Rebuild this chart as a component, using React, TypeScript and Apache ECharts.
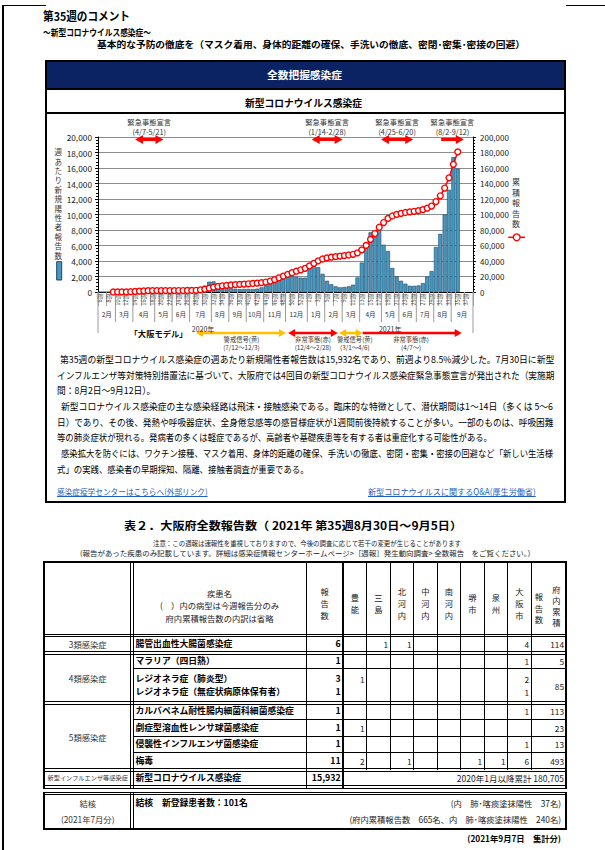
import React, { useEffect, useLayoutEffect, useRef } from 'react';
import * as echarts from 'echarts';

if (typeof document !== 'undefined') document.body.style.margin = '0';

const FONT = '"Noto Sans CJK JP", "Noto Sans", sans-serif';

// ---------------- chart data ----------------
const weeks2020 = ['6週','7週','8週','9週','10週','11週','12週','13週','14週','15週','16週','17週','18週','19週','20週','21週','22週','23週','24週','25週','26週','27週','28週','29週','30週','31週','32週','33週','34週','35週','36週','37週','38週','39週','40週','41週','42週','43週','44週','45週','46週','47週','48週','49週','50週','51週','52週','53週'];
const weeks2021 = ['1週','2週','3週','4週','5週','6週','7週','8週','9週','10週','11週','12週','13週','14週','15週','16週','17週','18週','19週','20週','21週','22週','23週','24週','25週','26週','27週','28週','29週','30週','31週','32週','33週','34週','35週','36週','37週','38週'];

const newCases2020 = [0,1,1,15,30,40,70,170,380,470, 370,190,80,30,10,5,5,10,20,20, 30,70,220,560,810,1330,1370,940,730,600, 480,400,360,400,400,380,430,600,850,1300, 1900,2200,2300,2200,2100,1950,1850,1850];
const newCases2021 = [3100,3400,3200,2350,1450, 1000,730,600,650,730, 940,1880,3800,5800,7700, 7600,8100,6100,5300,3100, 2000,1450,1070,800,800, 850,1150,2000,2700,5800, 7500,10000,13184,17412,15932, null,null,null];

const cumulative2020 = [null,null,null,17,47,87,157,327,707,1177, 1547,1737,1817,1847,1857,1862,1867,1877,1897,1917, 1947,2017,2237,2797,3607,4937,6307,7247,7977,8577, 9057,9457,9817,10217,10617,10997,11427,12027,12877,14177, 16077,18277,20577,22777,24877,26827,28677,30527];
const cumulative2021 = [33627,37027,40227,42577,44027, 45027,45757,46357,47007,47737, 48677,50557,54357,60157,67857, 75457,83557,89657,94957,98057, 100057,101507,102577,103377,104177, 105027,106177,108177,110877,116677, 124177,134177,147361,164773,180705, null,null,null];

const categories = [...weeks2020, ...weeks2021];
const newCases = [...newCases2020, ...newCases2021];
const cumulative = [...cumulative2020, ...cumulative2021];

const leftTicks = { min: 0, max: 20000, interval: 2000 };
const rightTicks = { min: 0, max: 200000, interval: 20000 };

const monthLabels = ['2月','3月','4月','5月','6月','7月','8月','9月','10月','11月','12月','1月','2月','3月','4月','5月','6月','7月','8月','9月'];
const monthStartWeek = [0,4,8,13,17,21,26,30,34,38,43,48,52,56,60,65,69,73,77,81];
const monthEndWeek = [4,8,13,17,21,26,30,34,38,43,48,52,56,60,65,69,73,77,81,86];

const emergencyStart = [8.5, 49.0, 64.9, 78.7];
const emergencyEnd = [15.0, 56.1, 72.3, 83.9];
const emergencyDates = ['(4/7-5/21)', '(1/14-2/28)', '(4/25-6/20)', '(8/2-9/12)'];
const emergencyBothHeads = [true, true, true, false];

const osakaStart = [22.5, 43.6, 55.3, 60.7];
const osakaEnd = [43.1, 55.0, 60.7, 83.4];
const osakaColors = ['#FFC000', '#FF0000', '#FFC000', '#FF0000'];
const osakaBothHeads = [true, true, true, false];
const osakaLabelPos = [32.9, 49.3, 58.9, 71.8];
const osakaLabel1 = ['警戒信号(黄)', '非常事態(赤)', '警戒信号(黄)', '非常事態(赤)'];
const osakaLabel2 = ['(7/12～12/3)', '(12/4～2/28)', '(3/1～4/6)', '(4/7～)'];

const footLabels = ['「大阪モデル」', '2020年', '2021年'];
const footPos = [13.9, 24.1, 67.0];

const leftAxisName = ['週','あ','た','り','新','規','陽','性','者','報','告','数'];
const rightAxisName = ['累','積','報','告','数'];

// ---------------- table data ----------------
const regionNames = ['豊能','三島','北河内','中河内','南河内','堺市','泉州','大阪市'];
type Row = { name: string; total: string; regions: string[]; cy: number };
const tableRows: Row[] = [
  { name: '腸管出血性大腸菌感染症', total: '6', regions: ['', '1', '1', '', '', '', '', '4'], cy: 644.5 },
  { name: 'マラリア（四日熱）', total: '1', regions: ['', '', '', '', '', '', '', '1'], cy: 661 },
  { name: 'レジオネラ症（肺炎型）', total: '3', regions: ['1', '', '', '', '', '', '', '2'], cy: 679.5 },
  { name: 'レジオネラ症（無症状病原体保有者）', total: '1', regions: ['', '', '', '', '', '', '', '1'], cy: 692.5 },
  { name: 'カルバペネム耐性腸内細菌科細菌感染症', total: '1', regions: ['', '', '', '', '', '', '', '1'], cy: 711.5 },
  { name: '劇症型溶血性レンサ球菌感染症', total: '1', regions: ['1', '', '', '', '', '', '', ''], cy: 728 },
  { name: '侵襲性インフルエンザ菌感染症', total: '1', regions: ['', '', '', '', '', '', '', '1'], cy: 744 },
  { name: '梅毒', total: '11', regions: ['2', '', '1', '', '', '1', '1', '6'], cy: 761 },
];
const cumulativeCells = [
  { v: '114', cy: 644.5 }, { v: '5', cy: 661 }, { v: '85', cy: 686 }, { v: '113', cy: 711.5 },
  { v: '23', cy: 728 }, { v: '13', cy: 744 }, { v: '493', cy: 761 },
];

const commentLines = [
  '第35週の新型コロナウイルス感染症の週あたり新規陽性者報告数は15,932名であり、前週より8.5%減少した。7月30日に新型',
  'インフルエンザ等対策特別措置法に基づいて、大阪府では4回目の新型コロナウイルス感染症緊急事態宣言が発出された（実施期',
  '間：8月2日～9月12日）。',
  '新型コロナウイルス感染症の主な感染経路は飛沫・接触感染である。臨床的な特徴として、潜伏期間は1～14日（多くは 5～6',
  '日）であり、その後、発熱や呼吸器症状、全身倦怠感等の感冒様症状が1週間前後持続することが多い。一部のものは、呼吸困難',
  '等の肺炎症状が現れる。発病者の多くは軽症であるが、高齢者や基礎疾患等を有する者は重症化する可能性がある。',
  '感染拡大を防ぐには、ワクチン接種、マスク着用、身体的距離の確保、手洗いの徹底、密閉・密集・密接の回避など「新しい生活様',
  '式」の実践、感染者の早期探知、隔離、接触者調査が重要である。',
];
const commentX = [60, 56.7, 56.7, 61, 56.7, 56.7, 61, 56.7];
const commentEnd = [554.3, 554, 155, 553, 553, 491.7, 553, 308.3];
const commentY = [360, 375.6, 391.2, 406.8, 422.4, 438, 453.7, 469.4];

// ---------------- helpers ----------------
const BAR = '#4798BE';
const BAR_EDGE = '#1E4468';

function txt(text: string, x: number, y: number, size: number, extra: any = {}) {
  return {
    type: 'text', x, y, silent: true,
    style: {
      text, fill: extra.fill || '#333', fontSize: size, fontFamily: FONT,
      fontWeight: extra.bold ? 'bold' : 'normal',
      align: extra.align || 'center', textAlign: extra.align || 'center',
      verticalAlign: 'middle', textVerticalAlign: 'middle',
    },
  };
}

function arrow(x0: number, x1: number, y: number, color: string, left: boolean, right: boolean, lw: number, hl: number, hw: number) {
  const els: any[] = [];
  els.push({ type: 'line', shape: { x1: left ? x0 + hl * 0.7 : x0, y1: y, x2: right ? x1 - hl * 0.7 : x1, y2: y }, style: { stroke: color, lineWidth: lw } });
  if (left) els.push({ type: 'polygon', shape: { points: [[x0, y], [x0 + hl, y - hw], [x0 + hl, y + hw]] }, style: { fill: color } });
  if (right) els.push({ type: 'polygon', shape: { points: [[x1, y], [x1 - hl, y - hw], [x1 - hl, y + hw]] }, style: { fill: color } });
  return els;
}

function FitText({ text, x, cy, w, size, bold, color, underline }: any) {
  const ref = useRef<HTMLSpanElement>(null);
  useLayoutEffect(() => {
    const el = ref.current;
    if (!el) return;
    el.style.transform = 'none';
    const nat = el.getBoundingClientRect().width;
    if (nat > 0) el.style.transform = `scaleX(${w / nat})`;
  }, [text, w]);
  return (
    <span ref={ref} style={{
      position: 'absolute', left: x, top: cy - size / 2, whiteSpace: 'nowrap', fontSize: size,
      lineHeight: `${size}px`, transformOrigin: '0 0', fontWeight: bold ? 700 : 400,
      color: color || '#000', fontFamily: FONT, textDecoration: underline ? 'underline' : 'none',
    }}>{text}</span>
  );
}

function T({ text, x, cy, size, bold, align, color }: any) {
  const style: any = {
    position: 'absolute', top: cy - size / 2, fontSize: size, lineHeight: `${size}px`, whiteSpace: 'nowrap',
    fontWeight: bold ? 700 : 400, color: color || '#222', fontFamily: FONT,
  };
  if (align === 'right') { style.left = x - 300; style.width = 300; style.textAlign = 'right'; }
  else if (align === 'center') { style.left = x - 150; style.width = 300; style.textAlign = 'center'; }
  else { style.left = x; }
  return <div style={style}>{text}</div>;
}

const HL = ({ x1, x2, y, t = 1 }: any) => <div style={{ position: 'absolute', left: x1, top: y - t / 2, width: x2 - x1, height: t, background: '#000' }} />;
const VL = ({ x, y1, y2, t = 1 }: any) => <div style={{ position: 'absolute', left: x - t / 2, top: y1, width: t, height: y2 - y1, background: '#000' }} />;
const DHL = ({ x1, x2, y }: any) => (<><HL x1={x1} x2={x2} y={y - 1.4} /><HL x1={x1} x2={x2} y={y + 1.4} /></>);

const colX = [44, 131.5, 306.3, 343.1, 366.6, 390.1, 413.6, 437.1, 460.6, 484.1, 507.6, 531.1, 566];

function buildOption() {
  const emergencySeries = {
    type: 'custom', coordinateSystem: 'cartesian2d', xAxisIndex: 1, yAxisIndex: 0, clip: false, silent: true, z: 10,
    encode: { x: [0, 1], y: 2 },
    data: emergencyStart.map((s, i) => [s, emergencyEnd[i], 20000]),
    renderItem: (params: any, api: any) => {
      const i = params.dataIndex;
      const p0 = api.coord([api.value(0), 20000]);
      const p1 = api.coord([api.value(1), 20000]);
      const yt = p0[1];
      const cx = (p0[0] + p1[0]) / 2;
      return {
        type: 'group',
        children: [
          txt('緊急事態宣言', cx, yt - 15.5, 7.3, { fill: '#333' }),
          txt(emergencyDates[i], cx, yt - 4.8, 7.3, { fill: '#333' }),
          ...arrow(p0[0], p1[0], yt + 2.5, '#FF0000', emergencyBothHeads[i], true, 3, 8, 4.5),
        ],
      };
    },
  };

  const monthSeries = {
    type: 'custom', coordinateSystem: 'cartesian2d', xAxisIndex: 1, yAxisIndex: 0, clip: false, silent: true,
    encode: { x: [0, 1], y: 2 },
    data: monthStartWeek.map((s, i) => [s, monthEndWeek[i], 0]),
    renderItem: (params: any, api: any) => {
      const i = params.dataIndex;
      const p0 = api.coord([api.value(0), 0]);
      const p1 = api.coord([api.value(1), 0]);
      const yb = p0[1];
      const children: any[] = [
        { type: 'line', shape: { x1: p0[0], y1: yb, x2: p0[0], y2: yb + (i === 0 ? 41 : 30) }, style: { stroke: '#9a9a9a', lineWidth: 1 } },
        txt(monthLabels[i], (p0[0] + p1[0]) / 2, yb + 22, 6.5, { fill: '#333' }),
      ];
      if (i === monthStartWeek.length - 1) {
        children.push({ type: 'line', shape: { x1: p1[0], y1: yb, x2: p1[0], y2: yb + 41 }, style: { stroke: '#9a9a9a', lineWidth: 1 } });
      }
      return { type: 'group', children };
    },
  };

  const osakaSeries = {
    type: 'custom', coordinateSystem: 'cartesian2d', xAxisIndex: 1, yAxisIndex: 0, clip: false, silent: true,
    encode: { x: [0, 1, 2], y: 3 },
    data: osakaStart.map((s, i) => [s, osakaEnd[i], osakaLabelPos[i], 0]),
    renderItem: (params: any, api: any) => {
      const i = params.dataIndex;
      const p0 = api.coord([api.value(0), 0]);
      const p1 = api.coord([api.value(1), 0]);
      const pl = api.coord([api.value(2), 0]);
      const yb = p0[1];
      return {
        type: 'group',
        children: [
          ...arrow(p0[0], p1[0], yb + 41, osakaColors[i], osakaBothHeads[i], true, 2.6, 7, 4),
          txt(osakaLabel1[i], pl[0], yb + 47.3, 6.3, { fill: '#333' }),
          txt(osakaLabel2[i], pl[0], yb + 55.3, 6.3, { fill: '#333' }),
        ],
      };
    },
  };

  const footSeries = {
    type: 'custom', coordinateSystem: 'cartesian2d', xAxisIndex: 1, yAxisIndex: 0, clip: false, silent: true,
    encode: { x: 0, y: 1 },
    data: footPos.map((p) => [p, 0]),
    renderItem: (params: any, api: any) => {
      const i = params.dataIndex;
      const p = api.coord([api.value(0), 0]);
      return i === 0
        ? txt(footLabels[i], p[0], p[1] + 41, 8.3, { fill: '#111', bold: true })
        : txt(footLabels[i], p[0], p[1] + 36.5, 7, { fill: '#333' });
    },
  };

  return {
    animation: false,
    textStyle: { fontFamily: FONT },
    grid: { left: 52, top: 24, width: 375, height: 155 },
    xAxis: [
      {
        type: 'category', data: categories, boundaryGap: true,
        axisLine: { lineStyle: { color: '#000', width: 1 } },
        axisTick: { show: true, interval: 1, length: 14, lineStyle: { color: '#a8a8a8' } },
        axisLabel: { interval: 1, rotate: 90, fontSize: 5.5, color: '#444', margin: 2, fontFamily: FONT },
        splitLine: { show: false },
      },
      {
        type: 'value', min: 0, max: 86, position: 'top',
        axisLine: { show: true, lineStyle: { color: '#000', width: 1.2 } },
        axisTick: { show: false }, axisLabel: { show: false }, splitLine: { show: false },
      },
    ],
    yAxis: [
      {
        type: 'value', ...leftTicks, position: 'left',
        axisLine: { show: true, lineStyle: { color: '#000' } },
        axisTick: { show: true, length: 3, lineStyle: { color: '#000' } },
        minorTick: { show: true, splitNumber: 5, length: 2, lineStyle: { color: '#000' } },
        splitLine: { show: true, lineStyle: { color: '#8c8c8c', width: 1 } },
        axisLabel: { fontSize: 8.3, color: '#222', margin: 6, fontFamily: FONT, formatter: (v: number) => v.toLocaleString('en-US') },
      },
      {
        type: 'value', ...rightTicks, position: 'right',
        axisLine: { show: true, lineStyle: { color: '#000' } },
        axisTick: { show: true, length: 3, lineStyle: { color: '#000' } },
        minorTick: { show: true, splitNumber: 5, length: 2, lineStyle: { color: '#000' } },
        splitLine: { show: false },
        axisLabel: { fontSize: 8, color: '#222', margin: 7, fontFamily: FONT, formatter: (v: number) => v.toLocaleString('en-US') },
      },
    ],
    series: [
      {
        type: 'bar', data: newCases, xAxisIndex: 0, yAxisIndex: 0, barCategoryGap: '8%',
        itemStyle: { color: BAR, borderColor: BAR_EDGE, borderWidth: 0.6 },
      },
      {
        type: 'line', data: cumulative, xAxisIndex: 0, yAxisIndex: 1, symbol: 'circle', symbolSize: 5.8,
        showAllSymbol: true, connectNulls: false,
        lineStyle: { color: '#FF0000', width: 1.5 },
        itemStyle: { color: '#FFFFFF', borderColor: '#FF0000', borderWidth: 1.4 }, z: 5,
      },
      emergencySeries, monthSeries, osakaSeries, footSeries,
    ],
    graphic: [
      { type: 'text', left: 8.5, top: 34, silent: true, style: { text: leftAxisName.join('\n'), fontSize: 7.5, lineHeight: 9.4, fill: '#333', fontFamily: FONT, align: 'center', textAlign: 'center' } },
      { type: 'rect', shape: { x: 10.7, y: 148.7, width: 5, height: 18.3 }, style: { fill: BAR, stroke: BAR_EDGE, lineWidth: 1 }, silent: true },
      { type: 'text', left: 466, top: 63.5, silent: true, style: { text: rightAxisName.join('\n'), fontSize: 8, lineHeight: 10.5, fill: '#333', fontFamily: FONT, align: 'center', textAlign: 'center' } },
      { type: 'line', shape: { x1: 462.3, y1: 124.3, x2: 479, y2: 124.3 }, style: { stroke: '#FF0000', lineWidth: 1.5 }, silent: true },
      { type: 'circle', shape: { cx: 470.7, cy: 124.3, r: 3.4 }, style: { fill: '#fff', stroke: '#FF0000', lineWidth: 1.4 }, silent: true },
    ],
  };
}

export default function App() {
  const ref = useRef<HTMLDivElement>(null);
  useEffect(() => {
    if (!ref.current) return;
    const chart = echarts.init(ref.current, null, { renderer: 'svg' });
    chart.setOption(buildOption() as any);
    return () => chart.dispose();
  }, []);

  const regionCenters = colX.slice(3, 11).map((x, i) => (x + colX[i + 4]) / 2);

  return (
    <div style={{ position: 'relative', width: 605, height: 850, background: '#fff', overflow: 'hidden', fontFamily: FONT }}>
      {/* page frame */}
      <div style={{ position: 'absolute', left: 2, top: 5, width: 1.5, height: 845, background: '#000' }} />
      <div style={{ position: 'absolute', left: 2, top: 4.5, width: 44, height: 1.5, background: '#000' }} />
      <div style={{ position: 'absolute', left: 566, top: 4.5, width: 39, height: 1.5, background: '#000' }} />

      <FitText text="第35週のコメント" x={43} cy={16} w={87} size={12} bold />
      <FitText text="～新型コロナウイルス感染症～" x={43} cy={32} w={108} size={9} bold />
      <FitText text="基本的な予防の徹底を（マスク着用、身体的距離の確保、手洗いの徹底、密閉･密集･密接の回避）" x={97} cy={45} w={428} size={9.5} bold />

      {/* box */}
      <div style={{ position: 'absolute', left: 45, top: 60, width: 521, height: 443, border: '2px solid #000', boxSizing: 'border-box' }} />
      <div style={{ position: 'absolute', left: 47, top: 62, width: 517, height: 25.5, background: '#0B2263' }} />
      <FitText text="全数把握感染症" x={267} cy={75} w={75} size={10.5} bold color="#fff" />
      <div style={{ position: 'absolute', left: 47, top: 87.5, width: 517, height: 2, background: '#000' }} />
      <FitText text="新型コロナウイルス感染症" x={245} cy={103} w={117} size={10} bold />
      <div style={{ position: 'absolute', left: 47, top: 111.5, width: 517, height: 2, background: '#000' }} />

      <div ref={ref} style={{ position: 'absolute', left: 46, top: 113, width: 518, height: 240 }} />

      {commentLines.map((l, i) => (
        <FitText key={i} text={l} x={commentX[i]} cy={commentY[i]} w={commentEnd[i] - commentX[i]} size={9.6} />
      ))}
      <FitText text="感染症疫学センターはこちらへ(外部リンク)" x={56.7} cy={491.5} w={150.6} size={8.5} color="#1F5FBF" underline />
      <FitText text="新型コロナウイルスに関するQ&A(厚生労働省)" x={368.3} cy={491.5} w={167.7} size={8.5} color="#1F5FBF" underline />

      {/* table title */}
      <FitText text="表２．大阪府全数報告数（ 2021年 第35週8月30日～9月5日）" x={124} cy={525} w={338} size={11} bold />
      <FitText text="注意：この週報は速報性を重視しておりますので、今後の調査に応じて若干の変更が生じることがあります" x={153} cy={543.3} w={308} size={7.3} color="#222" />
      <FitText text="(報告があった疾患のみ記載しています。詳細は感染症情報センターホームページ>［週報］発生動向調査> 全数報告　をご覧ください。）" x={80} cy={553.3} w={455} size={7.3} color="#222" />

      {/* table lines */}
      <HL x1={43} x2={567} y={562} t={2} />
      <VL x={44} y1={562} y2={789} t={2} />
      <VL x={566} y1={562} y2={789} t={2} />
      <VL x={130.2} y1={562} y2={788} />
      <VL x={133.2} y1={562} y2={788} />
      <VL x={colX[2]} y1={562} y2={788} t={1.4} />
      <VL x={colX[3]} y1={562} y2={788} t={1.4} />
      {colX.slice(4, 12).map((x, i) => <VL key={i} x={x} y1={562} y2={770} />)}
      <DHL x1={44} x2={566} y={635.5} />
      <DHL x1={44} x2={566} y={653} />
      <HL x1={133} x2={566} y={668.5} />
      <DHL x1={44} x2={566} y={703} />
      <HL x1={133} x2={566} y={719.5} />
      <HL x1={133} x2={566} y={736} />
      <HL x1={133} x2={566} y={752} />
      <DHL x1={44} x2={566} y={770} />
      <DHL x1={44} x2={566} y={787} />

      {/* header */}
      <T text="疾患名" x={219.5} cy={593} size={8.3} align="center" />
      <T text="(　）内の病型は今週報告分のみ" x={219.5} cy={605.5} size={8.3} align="center" />
      <T text="府内累積報告数の内訳は省略" x={219.5} cy={618} size={8.3} align="center" />
      {['報', '告', '数'].map((c, k) => <T key={'h' + k} text={c} x={324.7} cy={591.5 + k * 11.7} size={8.3} align="center" />)}
      {regionNames.map((n, i) => {
        const chars = n.split('');
        const start = chars.length === 3 ? 591.5 : 597;
        return chars.map((c, k) => <T key={n + k} text={c} x={regionCenters[i]} cy={start + k * 11.7} size={8.3} align="center" />);
      })}
      {['報', '告', '数'].map((c, k) => <T key={'c' + k} text={c} x={539} cy={596 + k * 11.7} size={8.3} align="center" />)}
      {['府', '内', '累', '積'].map((c, k) => <T key={'d' + k} text={c} x={556.5} cy={589 + k * 11} size={8.3} align="center" />)}

      {/* category column */}
      <T text="3類感染症" x={87.7} cy={644.5} size={8.3} align="center" color="#333" />
      <T text="4類感染症" x={87.7} cy={678} size={8.3} align="center" color="#333" />
      <T text="5類感染症" x={87.7} cy={737} size={8.3} align="center" color="#333" />
      <T text="新型インフルエンザ等感染症" x={87.7} cy={778.5} size={6.2} align="center" color="#333" />

      {tableRows.map((r, i) => (
        <React.Fragment key={i}>
          <T text={r.name} x={135.5} cy={r.cy} size={8.8} bold color="#000" />
          <T text={r.total} x={colX[3] - 2.5} cy={r.cy} size={8.8} bold align="right" color="#000" />
          {r.regions.map((v, k) => v ? <T key={k} text={v} x={colX[k + 4] - 2} cy={r.cy} size={8.3} align="right" /> : null)}
        </React.Fragment>
      ))}
      {cumulativeCells.map((c, i) => <T key={'cum' + i} text={c.v} x={564} cy={c.cy} size={8.3} align="right" />)}

      <T text="新型コロナウイルス感染症" x={135.5} cy={778.5} size={8.8} bold color="#000" />
      <T text="15,932" x={colX[3] - 2.5} cy={778.5} size={8.8} bold align="right" color="#000" />
      <T text="2020年1月以降累計  180,705" x={564} cy={778.5} size={8.5} align="right" />

      {/* tuberculosis box */}
      <HL x1={44} x2={566} y={792} />
      <HL x1={44} x2={566} y={794.6} />
      <VL x={44} y1={791.5} y2={830} t={2} />
      <VL x={566} y1={791.5} y2={830} t={2} />
      <HL x1={43} x2={567} y={829} t={2} />
      <VL x={130.2} y1={792} y2={829} />
      <VL x={133.2} y1={792} y2={829} />
      <T text="結核" x={87.7} cy={803} size={8.3} align="center" color="#333" />
      <T text="(2021年7月分)" x={87.7} cy={819.5} size={8.3} align="center" color="#333" />
      <T text="結核　新登録患者数：101名" x={135.5} cy={803} size={8.8} bold color="#000" />
      <T text="(内　肺･喀痰塗抹陽性　37名)" x={561} cy={803} size={8.3} align="right" />
      <T text="(府内累積報告数　665名、内　肺･喀痰塗抹陽性　240名)" x={561} cy={819.5} size={8.3} align="right" />
      <T text="(2021年9月7日　集計分)" x={561} cy={838.5} size={8.3} bold align="right" color="#000" />
    </div>
  );
}
